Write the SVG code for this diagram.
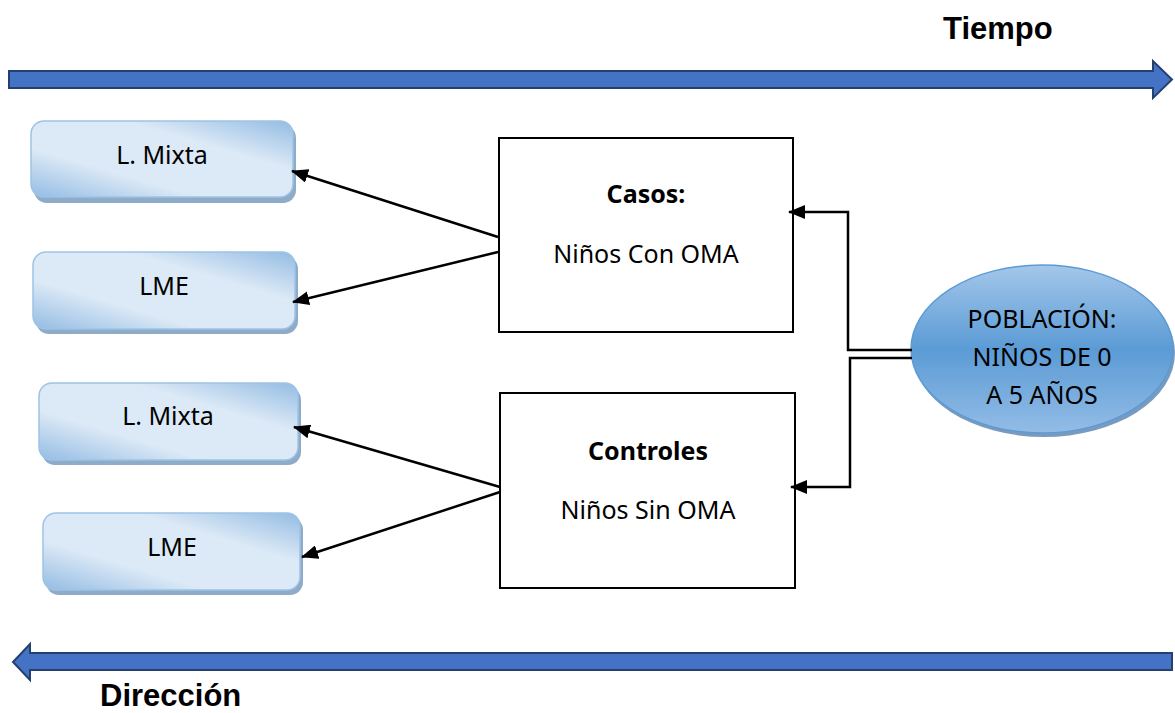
<svg xmlns="http://www.w3.org/2000/svg" width="1175" height="713" viewBox="0 0 1175 713">
  <style>
    .band { fill: #4472c4; stroke: #23406f; stroke-width: 2; }
    .title { font-family: "Liberation Sans", Arial, sans-serif; font-weight: bold; font-size: 31px; fill: #000; }
    .lbl { font-family: "Noto Sans", "Open Sans", sans-serif; font-size: 25px; fill: #000; text-anchor: middle; }
    .bold { font-weight: bold; }
    .pill { fill: url(#pillGrad); stroke: #9dc3e6; stroke-width: 1.5; }
    .pillShadow { fill: #8eabc8; }
    .box { fill: #fff; stroke: #000; stroke-width: 2; }
    .wireArrow { fill: none; stroke: #000; stroke-width: 2.5; marker-end: url(#head); }
  </style>
  <defs>
    <linearGradient id="pillGrad" x1="0" y1="1" x2="1" y2="0">
      <stop offset="0" stop-color="#93bce3"/>
      <stop offset="0.32" stop-color="#dce9f6"/>
      <stop offset="0.68" stop-color="#dce9f6"/>
      <stop offset="1" stop-color="#93bce3"/>
    </linearGradient>
    <linearGradient id="ovalGrad" x1="0" y1="0" x2="0" y2="1">
      <stop offset="0" stop-color="#a4c7ea"/>
      <stop offset="0.5" stop-color="#5b9bd5"/>
      <stop offset="1" stop-color="#93bce6"/>
    </linearGradient>
    <marker id="head" markerUnits="userSpaceOnUse" markerWidth="18" markerHeight="14" refX="16" refY="7" orient="auto">
      <path d="M0,0 L17,7 L0,14 Z" fill="#000"/>
    </marker>
  </defs>

  <!-- time band -->
  <g id="tiempo">
    <polygon class="band" points="9,71 1153,71 1153,61 1172,79.5 1153,98 1153,88 9,88"/>
    <text class="title" x="943" y="39">Tiempo</text>
  </g>

  <!-- direction band -->
  <g id="direccion">
    <polygon class="band" points="1172,653 30,653 30,644 13,662 30,680 30,670 1172,670"/>
    <text class="title" x="100" y="706">Dirección</text>
  </g>

  <!-- outcome boxes -->
  <g id="mixta1">
    <rect class="pillShadow" x="34" y="125" width="262" height="78" rx="13"/>
    <rect class="pill" x="31" y="121" width="262" height="76" rx="13"/>
    <text class="lbl" x="162" y="164">L. Mixta</text>
  </g>
  <g id="lme1">
    <rect class="pillShadow" x="36" y="256" width="262" height="78" rx="13"/>
    <rect class="pill" x="33" y="252" width="262" height="77" rx="13"/>
    <text class="lbl" x="164" y="295">LME</text>
  </g>
  <g id="mixta2">
    <rect class="pillShadow" x="42" y="387" width="259" height="78" rx="13"/>
    <rect class="pill" x="39" y="383" width="259" height="77" rx="13"/>
    <text class="lbl" x="168" y="425">L. Mixta</text>
  </g>
  <g id="lme2">
    <rect class="pillShadow" x="46" y="517" width="257" height="78" rx="13"/>
    <rect class="pill" x="43" y="513" width="257" height="77" rx="13"/>
    <text class="lbl" x="172" y="556">LME</text>
  </g>

  <!-- study groups -->
  <g id="casos">
    <rect class="box" x="499" y="138" width="294" height="194"/>
    <text class="lbl bold" x="646" y="203">Casos:</text>
    <text class="lbl" x="646" y="263">Niños Con OMA</text>
  </g>
  <g id="controles">
    <rect class="box" x="500" y="393" width="295" height="195"/>
    <text class="lbl bold" x="648" y="460">Controles</text>
    <text class="lbl" x="648" y="519">Niños Sin OMA</text>
  </g>

  <!-- population -->
  <g id="poblacion">
    <ellipse cx="1044" cy="353" rx="131" ry="84" fill="#3f6fa3" opacity="0.7"/>
    <ellipse cx="1042" cy="349" rx="131" ry="84" fill="url(#ovalGrad)" stroke="#5b9bd5" stroke-width="1.5"/>
    <text class="lbl" x="1042" y="328">POBLACIÓN:</text>
    <text class="lbl" x="1042" y="366">NIÑOS DE 0</text>
    <text class="lbl" x="1042" y="404">A 5 AÑOS</text>
  </g>

  <!-- connectors -->
  <g id="connectors">
    <line class="wireArrow" x1="498" y1="237" x2="292" y2="171"/>
    <line class="wireArrow" x1="498" y1="252" x2="293" y2="302"/>
    <line class="wireArrow" x1="500" y1="487" x2="294" y2="427"/>
    <line class="wireArrow" x1="500" y1="492" x2="302" y2="557"/>
    <polyline class="wireArrow" points="912,350 848,350 848,212 789,212"/>
    <polyline class="wireArrow" points="912,358 850,358 850,487 791,487"/>
  </g>
</svg>
